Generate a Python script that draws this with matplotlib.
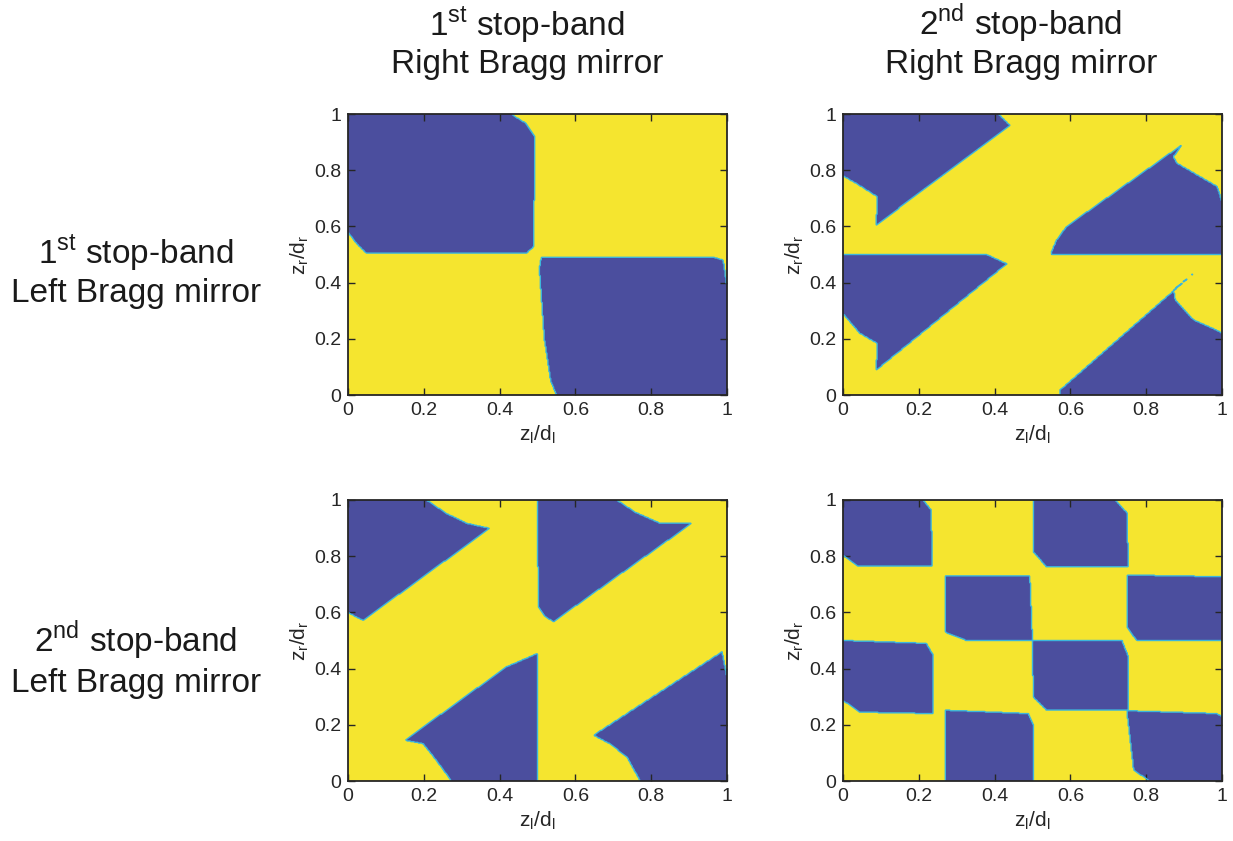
import numpy as np
import matplotlib
matplotlib.use("Agg")
import matplotlib.pyplot as plt
from matplotlib.path import Path
from matplotlib.colors import ListedColormap

plt.rcParams["font.family"] = ["Liberation Sans", "DejaVu Sans"]

# blue (stop-band overlap) regions, as (z_l/d_l, z_r/d_r) polygons
blue_11 = [
    [(0, 1), (0.43, 1), (0.47, 0.966), (0.493, 0.92), (0.49, 0.528), (0.47, 0.504),
     (0.048, 0.505), (0.022, 0.54), (0, 0.58)],
    [(0.51, 0.49), (0.965, 0.49), (0.99, 0.48), (1, 0.385), (1, 0), (0.55, 0),
     (0.535, 0.05), (0.518, 0.2), (0.505, 0.45)],
]
blue_12 = [
    [(0, 1), (0.41, 1), (0.44, 0.96), (0.088, 0.605), (0.09, 0.706), (0.062, 0.73),
     (0.035, 0.753), (0, 0.78)],
    [(0, 0.5), (0.379, 0.5), (0.432, 0.467), (0.088, 0.089), (0.09, 0.184),
     (0.044, 0.22), (0, 0.29)],
    [(0.55, 0.5), (1, 0.5), (1, 0.688), (0.987, 0.742), (0.881, 0.825), (0.872, 0.848),
     (0.894, 0.89), (0.59, 0.6), (0.564, 0.552), (0.55, 0.51)],
    [(0.573, 0), (1, 0), (1, 0.22), (0.987, 0.23), (0.925, 0.267), (0.877, 0.338),
     (0.872, 0.374), (0.925, 0.433), (0.573, 0.018)],
]
blue_21 = [
    [(0, 1), (0.207, 1), (0.26, 0.952), (0.313, 0.917), (0.374, 0.899), (0.04, 0.572),
     (0.02, 0.585), (0, 0.6)],
    [(0.5, 1), (0.709, 1), (0.76, 0.955), (0.824, 0.917), (0.907, 0.917), (0.542, 0.567),
     (0.52, 0.585), (0.502, 0.62)],
    [(0.273, 0), (0.5, 0), (0.5, 0.454), (0.493, 0.45), (0.418, 0.406), (0.15, 0.145),
     (0.198, 0.133), (0.233, 0.074)],
    [(0.771, 0), (1, 0), (1, 0.37), (0.987, 0.46), (0.648, 0.163), (0.69, 0.133),
     (0.736, 0.086)],
]
blue_22 = [
    [(0, 1), (0.211, 1), (0.233, 0.964), (0.235, 0.765), (0.04, 0.765), (0, 0.804)],
    [(0.502, 1), (0.718, 1), (0.749, 0.955), (0.753, 0.762), (0.537, 0.762), (0.502, 0.816)],
    [(0.269, 0.729), (0.493, 0.729), (0.5, 0.5), (0.326, 0.5), (0.269, 0.53)],
    [(0.749, 0.733), (1, 0.727), (1, 0.5), (0.775, 0.5), (0.749, 0.548)],
    [(0, 0.5), (0.22, 0.49), (0.238, 0.448), (0.238, 0.24), (0.044, 0.245), (0, 0.287)],
    [(0.5, 0.5), (0.736, 0.5), (0.753, 0.442), (0.753, 0.252), (0.537, 0.252),
     (0.502, 0.299)],
    [(0.269, 0.252), (0.489, 0.24), (0.502, 0.2), (0.502, 0), (0.269, 0)],
    [(0.749, 0.25), (0.987, 0.24), (1, 0.228), (1, 0), (0.81, 0), (0.767, 0.038)],
]

ticks = [0, 0.2, 0.4, 0.6, 0.8, 1]
tick_labels = ["0", "0.2", "0.4", "0.6", "0.8", "1"]
col_titles = [("1$^{\\mathregular{st}}$ stop-band", "Right Bragg mirror"),
              ("2$^{\\mathregular{nd}}$ stop-band", "Right Bragg mirror")]
row_titles = [("1$^{\\mathregular{st}}$ stop-band", "Left Bragg mirror"),
              ("2$^{\\mathregular{nd}}$ stop-band", "Left Bragg mirror")]

yellow = "#f5e52f"
blue = "#4b4e9e"
edge = "#3cb6dc"
dark = "#262626"

W, H = 1233, 841
fig = plt.figure(figsize=(W / 100, H / 100), dpi=100)

n = 400
g = (np.arange(n) + 0.5) / n
X, Y = np.meshgrid(g, g)
pts = np.column_stack([X.ravel(), Y.ravel()])

panels = [[blue_11, blue_12], [blue_21, blue_22]]
lefts = [348, 843]
tops = [114, 500]
aw, ah = 379, 281

for r in range(2):
    for c in range(2):
        ax = fig.add_axes([lefts[c] / W, 1 - (tops[r] + ah) / H, aw / W, ah / H])
        mask = np.zeros(n * n, dtype=bool)
        for poly in panels[r][c]:
            mask |= Path(poly).contains_points(pts)
        mask = mask.reshape(n, n).astype(float)
        ax.imshow(mask, cmap=ListedColormap([yellow, blue]), vmin=0, vmax=1,
                  origin="lower", extent=[0, 1, 0, 1], aspect="auto",
                  interpolation="nearest")
        ax.contour(X, Y, mask, levels=[0.5], colors=edge, linewidths=1.0)
        ax.set_xlim(0, 1)
        ax.set_ylim(0, 1)
        ax.set_xticks(ticks)
        ax.set_xticklabels(tick_labels)
        ax.set_yticks(ticks)
        ax.set_yticklabels(tick_labels)
        ax.tick_params(direction="in", top=True, right=True, length=5, width=1,
                       colors=dark, labelsize=14, pad=5)
        for s in ax.spines.values():
            s.set_color(dark)
            s.set_linewidth(1.3)
        ax.set_xlabel("z$_{\\mathregular{l}}$/d$_{\\mathregular{l}}$", fontsize=15,
                      color=dark, labelpad=3)
        ax.set_ylabel("z$_{\\mathregular{r}}$/d$_{\\mathregular{r}}$", fontsize=15,
                      color=dark, labelpad=2)

# column headers
for c, xc in enumerate([527, 1021]):
    fig.text(xc / W, 1 - 35 / H, col_titles[c][0], fontsize=24, ha="center",
             va="baseline", color="#1a1a1a")
    fig.text(xc / W, 1 - 73 / H, col_titles[c][1], fontsize=24, ha="center",
             va="baseline", color="#1a1a1a")

# row headers
for r, (b1, b2) in enumerate([(263, 302), (652, 692)]):
    fig.text(136 / W, 1 - b1 / H, row_titles[r][0], fontsize=24, ha="center",
             va="baseline", color="#1a1a1a")
    fig.text(136 / W, 1 - b2 / H, row_titles[r][1], fontsize=24, ha="center",
             va="baseline", color="#1a1a1a")

fig.savefig("out.png", dpi=100)
